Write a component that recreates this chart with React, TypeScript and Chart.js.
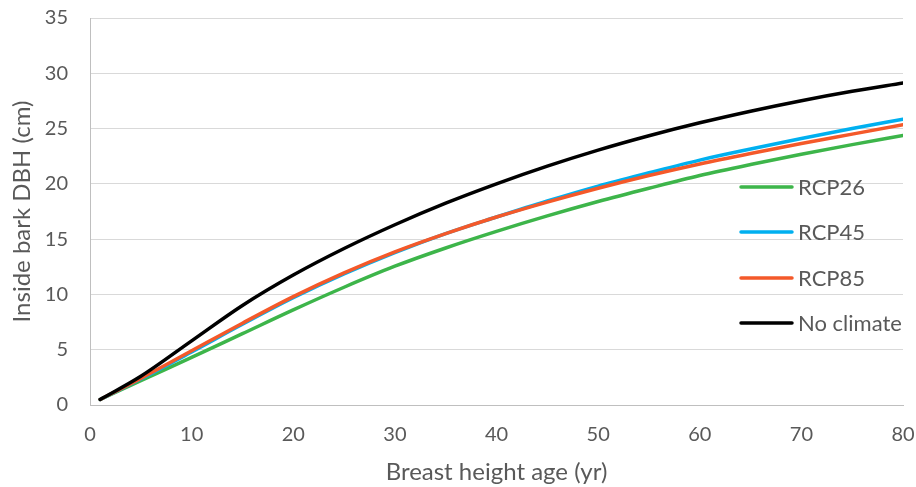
import React, { useEffect, useRef } from "react";
import { Chart, registerables } from "chart.js";
Chart.register(...registerables);

const ages = [1, 5, 10, 15, 20, 25, 30, 35, 40, 45, 50, 55, 60, 65, 70, 75, 80];
const rcp26 = [0.5, 2.2, 4.3, 6.45, 8.6, 10.65, 12.55, 14.2, 15.7, 17.1, 18.4, 19.6, 20.75, 21.75, 22.68, 23.55, 24.38];
const rcp45 = [0.5, 2.35, 4.8, 7.3, 9.7, 11.85, 13.78, 15.5, 17.0, 18.45, 19.8, 21.0, 22.15, 23.15, 24.1, 25.0, 25.85];
const rcp85 = [0.5, 2.4, 4.9, 7.4, 9.8, 11.95, 13.85, 15.5, 17.0, 18.35, 19.6, 20.75, 21.8, 22.75, 23.65, 24.5, 25.35];
const noClimate = [0.5, 2.6, 5.8, 9.0, 11.75, 14.15, 16.3, 18.25, 20.0, 21.6, 23.05, 24.35, 25.52, 26.57, 27.52, 28.37, 29.12];

const seriesNames = ["RCP26", "RCP45", "RCP85", "No climate"];
const seriesColors = ["#3DB54A", "#00B0F0", "#F4592A", "#000000"];
const seriesValues = [rcp26, rcp45, rcp85, noClimate];
const drawOrder = [3, 2, 1, 0];

const xTitle = "Breast height age (yr)";
const yTitle = "Inside bark DBH (cm)";

const FONT = "Lato, 'Open Sans', sans-serif";
const TEXT = "#595959";

const legendPlugin = {
  id: "insideLegend",
  afterDraw(chart: any) {
    const ctx = chart.ctx;
    ctx.save();
    const ys = [187, 232, 278, 323];
    seriesNames.forEach((name, i) => {
      ctx.strokeStyle = seriesColors[i];
      ctx.lineWidth = 3.5;
      ctx.lineCap = "round";
      ctx.beginPath();
      ctx.moveTo(741, ys[i]);
      ctx.lineTo(792, ys[i]);
      ctx.stroke();
      ctx.fillStyle = TEXT;
      ctx.font = `22px ${FONT}`;
      ctx.textAlign = "left";
      ctx.textBaseline = "middle";
      ctx.fillText(name, 798, ys[i] + 1);
    });
    ctx.restore();
  },
};

export default function App() {
  const ref = useRef<HTMLCanvasElement>(null);
  useEffect(() => {
    if (!ref.current) return;
    const chart = new Chart(ref.current, {
      type: "line",
      data: {
        datasets: seriesNames.map((name, i) => ({
          label: name,
          data: ages.map((a, j) => ({ x: a, y: seriesValues[i][j] })),
          borderColor: seriesColors[i],
          backgroundColor: seriesColors[i],
          borderWidth: 3.5,
          borderCapStyle: "round" as const,
          pointRadius: 0,
          cubicInterpolationMode: "monotone" as const,
          order: drawOrder[i],
        })),
      },
      options: {
        responsive: false,
        animation: false,
        layout: { autoPadding: false, padding: { top: 18, right: 13, left: 0, bottom: 0 } },
        plugins: { legend: { display: false }, tooltip: { enabled: false } },
        scales: {
          x: {
            type: "linear",
            min: 0,
            max: 80,
            ticks: { stepSize: 10, color: TEXT, font: { family: FONT, size: 20 }, padding: 18 },
            grid: { display: false, drawTicks: false },
            border: { display: true, color: "#BFBFBF", width: 1 },
            title: { display: true, text: xTitle, color: TEXT, font: { family: FONT, size: 24 }, padding: { top: 0, bottom: 0 } },
            afterFit: (s: any) => { s.height = 82; s.paddingLeft = 0; s.paddingRight = 0; },
          },
          y: {
            min: 0,
            max: 35,
            ticks: { stepSize: 5, color: TEXT, font: { family: FONT, size: 20 }, padding: 22 },
            grid: { color: "#D9D9D9", lineWidth: 1, drawTicks: false },
            border: { display: true, color: "#BFBFBF", width: 1 },
            title: { display: true, text: yTitle, color: TEXT, font: { family: FONT, size: 24 }, padding: { top: 8, bottom: 0 } },
            afterFit: (s: any) => { s.width = 90; s.paddingTop = 0; s.paddingBottom = 0; },
          },
        },
      },
      plugins: [legendPlugin],
    });
    return () => chart.destroy();
  }, []);
  return (
    <div style={{ position: "absolute", left: 0, top: 0, width: 916, height: 487, background: "#fff" }}>
      <canvas ref={ref} width={916} height={487} />
    </div>
  );
}
